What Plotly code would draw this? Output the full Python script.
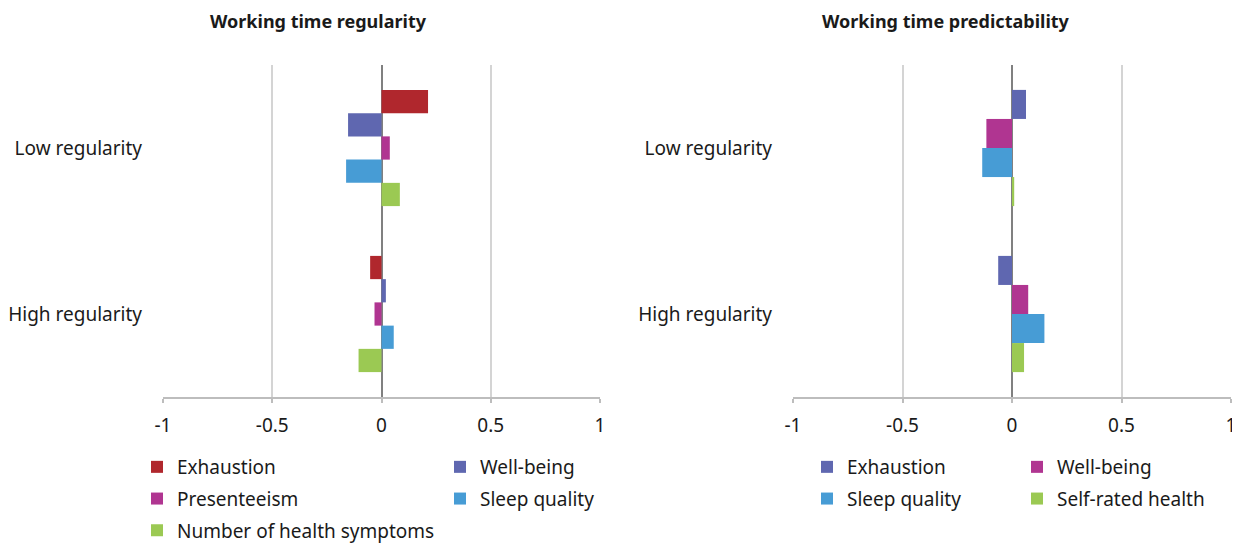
import plotly.graph_objects as go

# categories (top to bottom)
groups = ['Low regularity', 'High regularity']

# left panel: working time regularity
reg_series = ['Exhaustion', 'Well-being', 'Presenteeism', 'Sleep quality',
              'Number of health symptoms']
reg_values = {
    'Exhaustion': [0.213, -0.052],
    'Well-being': [-0.153, 0.020],
    'Presenteeism': [0.038, -0.032],
    'Sleep quality': [-0.162, 0.056],
    'Number of health symptoms': [0.084, -0.105],
}

# right panel: working time predictability
pred_series = ['Exhaustion', 'Well-being', 'Sleep quality', 'Self-rated health']
pred_values = {
    'Exhaustion': [0.064, -0.063],
    'Well-being': [-0.117, 0.074],
    'Sleep quality': [-0.136, 0.148],
    'Self-rated health': [0.010, 0.055],
}

tick_vals = [-1, -0.5, 0, 0.5, 1]
tick_text = ['-1', '-0.5', '0', '0.5', '1']

RED = '#B0272D'
INDIGO = '#5F67B0'
MAGENTA = '#B03591'
BLUE = '#479CD5'
GREEN = '#9BC953'

reg_colors = [RED, INDIGO, MAGENTA, BLUE, GREEN]
pred_colors = [INDIGO, MAGENTA, BLUE, GREEN]
# legend column for each series (two-column legend grid)
reg_cols = ['legend', 'legend2', 'legend', 'legend2', 'legend']
pred_cols = ['legend3', 'legend4', 'legend3', 'legend4']

FONT = 'Noto Sans'
TXT = '#1a1a1a'
FS = 19

# page has an 8px body margin; work in page pixels and convert
W, H = 1232, 537
OFF = 8


def px(x):
    return (x - OFF) / W


def py(y):
    return 1 - (y - OFF) / H


fig = go.Figure()

for i, (name, col) in enumerate(zip(reg_series, reg_colors)):
    fig.add_trace(go.Bar(y=groups, x=reg_values[name], name=name, orientation='h',
                         marker=dict(color=col, line=dict(width=0)),
                         xaxis='x', yaxis='y', legend=reg_cols[i],
                         legendgroup=f'r{i}'))

for i, (name, col) in enumerate(zip(pred_series, pred_colors)):
    fig.add_trace(go.Bar(y=groups, x=pred_values[name], name=name, orientation='h',
                         marker=dict(color=col, line=dict(width=0)),
                         xaxis='x2', yaxis='y2', legend=pred_cols[i],
                         legendgroup=f'p{i}'))

xcommon = dict(range=[-1, 1], tickvals=tick_vals, ticktext=tick_text,
               showgrid=True, gridcolor='#d4d4d4', gridwidth=2,
               zeroline=True, zerolinecolor='#808080', zerolinewidth=1.5,
               showline=True, linecolor='#bdbdbd', linewidth=2,
               ticks='outside', ticklen=4, tickcolor='#bdbdbd', tickwidth=2,
               ticklabelstandoff=6,
               tickfont=dict(family=FONT, size=FS, color=TXT),
               automargin=False, fixedrange=True)
ycommon = dict(autorange='reversed', showgrid=False, zeroline=False,
               showline=False, ticks='', ticklabelstandoff=20,
               tickfont=dict(family=FONT, size=FS, color=TXT),
               automargin=False, fixedrange=True)

ydom = [py(397), py(65)]


def legend_at(x_sym):
    return dict(orientation='v', x=px(x_sym - 22), y=py(448),
                xanchor='left', yanchor='top', tracegroupgap=4,
                traceorder='grouped', bgcolor='rgba(0,0,0,0)',
                font=dict(family=FONT, size=FS, color=TXT), itemclick=False,
                itemdoubleclick=False)


fig.update_layout(
    width=W, height=H,
    margin=dict(l=0, r=0, t=0, b=0, autoexpand=False),
    paper_bgcolor='white', plot_bgcolor='white',
    barmode='group', bargap=0.3, bargroupgap=0,
    font=dict(family=FONT, size=FS, color=TXT),
    xaxis=dict(domain=[px(163), px(600)], anchor='y', **xcommon),
    yaxis=dict(domain=ydom, anchor='x', **ycommon),
    xaxis2=dict(domain=[px(793), px(1231)], anchor='y2', **xcommon),
    yaxis2=dict(domain=ydom, anchor='x2', **ycommon),
    legend=legend_at(159),
    legend2=legend_at(462),
    legend3=legend_at(829),
    legend4=legend_at(1039),
    annotations=[
        dict(text='<b>Working time regularity</b>', x=px(318), y=py(21),
             xref='paper', yref='paper', showarrow=False, xanchor='center',
             yanchor='middle', font=dict(family=FONT, size=18, color=TXT)),
        dict(text='<b>Working time predictability</b>', x=px(946), y=py(21),
             xref='paper', yref='paper', showarrow=False, xanchor='center',
             yanchor='middle', font=dict(family=FONT, size=18, color=TXT)),
    ],
    showlegend=True,
)

fig.write_html('out.html')
